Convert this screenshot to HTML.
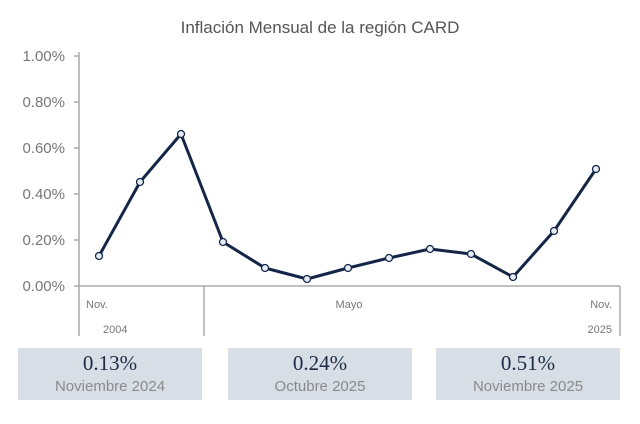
<!DOCTYPE html>
<html><head><style>
body{margin:0;background:#fff;width:640px;height:424px;overflow:hidden;font-family:"Liberation Sans",sans-serif;}
.box{position:absolute;top:348px;width:184px;height:52px;background:#d8dee6;text-align:center;}
.v{font-family:"Liberation Serif",serif;font-size:21px;color:#1a2a45;margin-top:3px;line-height:24px}
.l{font-size:15px;color:#8a8a8a;line-height:20px;margin-top:2px}
</style></head><body>
<svg width="640" height="424" style="position:absolute;left:0;top:0" font-family="Liberation Sans, sans-serif">
<text x="320" y="33" text-anchor="middle" font-size="17" fill="#555">Inflación Mensual de la región CARD</text>
<g font-size="15" fill="#777" text-anchor="end">
<text x="65" y="61">1.00%</text><text x="65" y="107">0.80%</text><text x="65" y="153">0.60%</text>
<text x="65" y="199">0.40%</text><text x="65" y="245">0.20%</text><text x="65" y="291">0.00%</text>
</g>
<g stroke="#aaa" stroke-width="1.5" fill="none">
<line x1="79" y1="52" x2="79" y2="336"/>
<line x1="74" y1="286" x2="620" y2="286"/>
<line x1="74" y1="56" x2="79" y2="56"/><line x1="74" y1="102" x2="79" y2="102"/><line x1="74" y1="148" x2="79" y2="148"/>
<line x1="74" y1="194" x2="79" y2="194"/><line x1="74" y1="240" x2="79" y2="240"/>
<line x1="204" y1="286" x2="204" y2="336"/><line x1="620" y1="286" x2="620" y2="336"/>
</g>
<g font-size="11" fill="#777">
<text x="86" y="308">Nov.</text><text x="103" y="333">2004</text>
<text x="349" y="308" text-anchor="middle">Mayo</text>
<text x="612" y="308" text-anchor="end">Nov.</text><text x="612" y="333" text-anchor="end">2025</text>
</g>
<polyline fill="none" stroke="#142647" stroke-width="3" stroke-linejoin="round" points="99,256 140,182 181,134 223,242 265,268 307,279 348,268 389,258 430,249 471,254 513,277 554,231 596,169"/>
<g fill="#e6ecf5" stroke="#142647" stroke-width="1.3">
<circle cx="99" cy="256" r="3.5"/><circle cx="140" cy="182" r="3.5"/><circle cx="181" cy="134" r="3.5"/><circle cx="223" cy="242" r="3.5"/><circle cx="265" cy="268" r="3.5"/><circle cx="307" cy="279" r="3.5"/><circle cx="348" cy="268" r="3.5"/><circle cx="389" cy="258" r="3.5"/><circle cx="430" cy="249" r="3.5"/><circle cx="471" cy="254" r="3.5"/><circle cx="513" cy="277" r="3.5"/><circle cx="554" cy="231" r="3.5"/><circle cx="596" cy="169" r="3.5"/>
</g>
</svg>
<div class="box" style="left:18px"><div class="v">0.13%</div><div class="l">Noviembre 2024</div></div>
<div class="box" style="left:228px"><div class="v">0.24%</div><div class="l">Octubre 2025</div></div>
<div class="box" style="left:436px"><div class="v">0.51%</div><div class="l">Noviembre 2025</div></div>
</body></html>
